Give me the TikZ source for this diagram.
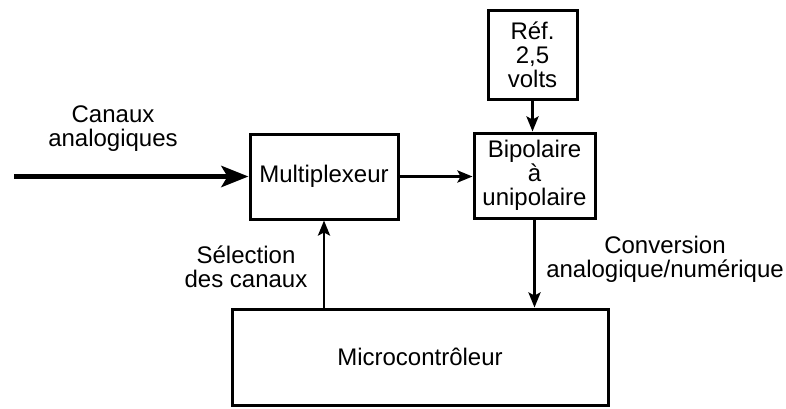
\documentclass[tikz,border=0pt]{standalone}
\usepackage{fontspec}
\setmainfont{Liberation Sans}
\usetikzlibrary{arrows.meta}
\begin{document}
\begin{tikzpicture}[x=1pt,y=-1pt,
  txt/.style={font=\fontsize{24}{24}\selectfont},
  blk/.style={txt, draw, line width=3pt, inner sep=0pt, align=center},
  lbl/.style={txt, align=center, inner sep=0pt},
  conn/.style={line width=2.8pt, -{Stealth[length=15pt,width=12pt,inset=3pt]}},
  bigconn/.style={line width=5.5pt, -{Stealth[length=27pt,width=21pt,inset=6pt]}}]
\useasboundingbox (0,0) rectangle (786,408);
\node[blk, minimum width=148, minimum height=85] (mux) at (324,176.5) {Multiplexeur};
\node[blk, minimum width=89, minimum height=89] (ref) at (532.5,54.5) {Réf.\\2,5\\volts};
\node[blk, minimum width=121, minimum height=85] (bip) at (534.5,175.5) {Bipolaire\\à\\unipolaire};
\node[blk, minimum width=376, minimum height=96] (micro) at (420,357) {Microcontrôleur};
\node[lbl] (can) at (113,129) {Canaux\\analogiques};
\node[lbl] (sel) at (246,267) {Sélection\\des canaux};
\node[lbl] (conv) at (665,259) {Conversion\\analogique/numérique};
\coordinate (in) at (14,176.5);
\draw[bigconn] (in) -- (mux.west);
\draw[conn] (mux.east) -- (mux.east -| bip.west);
\draw[conn] (ref.south) -- (ref.south |- bip.north);
\draw[conn] (bip.south) -- (bip.south |- micro.north);
\draw[conn] (mux.south |- micro.north) -- (mux.south);
\end{tikzpicture}
\end{document}
